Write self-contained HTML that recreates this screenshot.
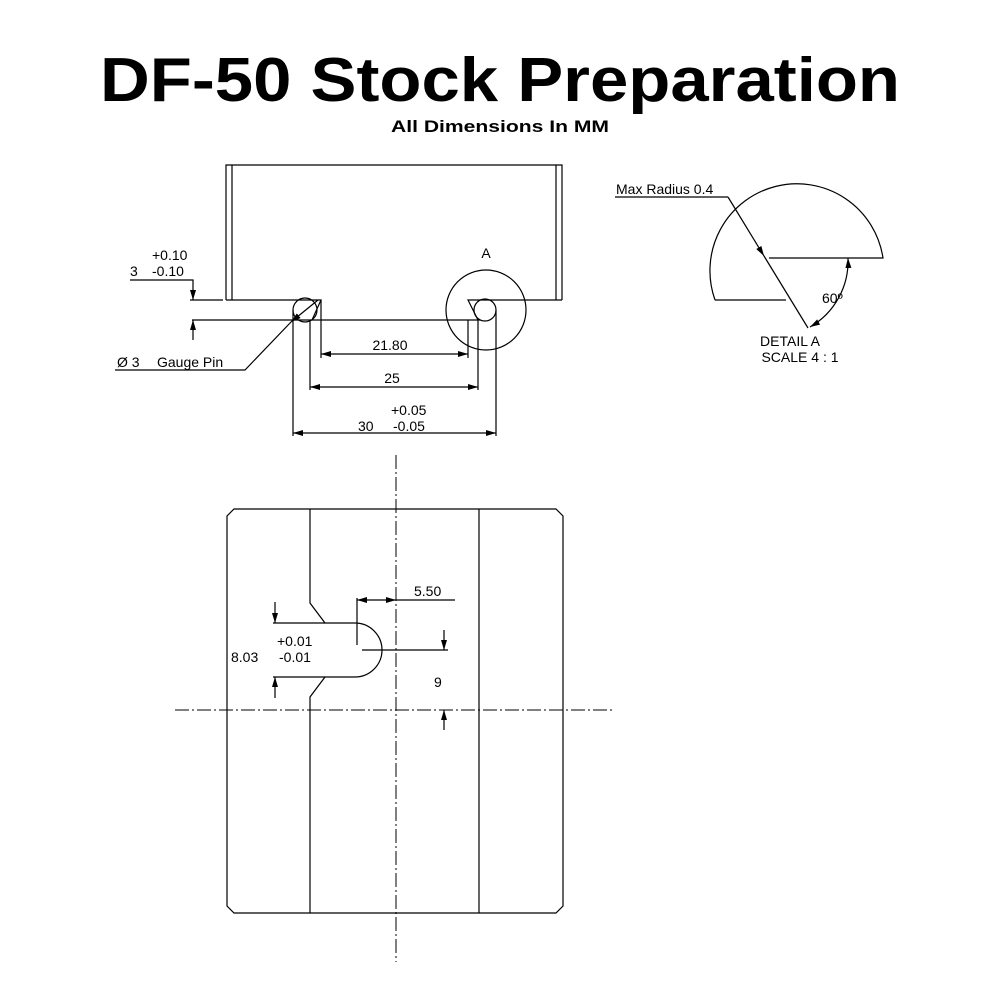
<!DOCTYPE html>
<html><head><style>
html,body{margin:0;padding:0;background:#fff;}
svg{display:block;}
text{font-family:"Liberation Sans",sans-serif;fill:#000;}
</style></head><body>
<svg width="1000" height="1000" viewBox="0 0 1000 1000" xmlns="http://www.w3.org/2000/svg">
<defs>
<marker id="a" viewBox="0 0 10 6" refX="10" refY="3" markerWidth="10" markerHeight="6" markerUnits="userSpaceOnUse" orient="auto-start-reverse"><path d="M0,0L10,3L0,6z" fill="#000"/></marker>
</defs>
<text x="500" y="101" text-anchor="middle" font-size="62" font-weight="bold" textLength="800" lengthAdjust="spacingAndGlyphs">DF-50 Stock Preparation</text>
<text x="500" y="132" text-anchor="middle" font-size="17" font-weight="bold" textLength="218" lengthAdjust="spacingAndGlyphs">All Dimensions In MM</text>

<g stroke="#000" stroke-width="1.2" fill="none">
<path d="M226,300 V165 H562 V300"/>
<line x1="232" y1="165" x2="232" y2="300"/>
<line x1="556" y1="165" x2="556" y2="300"/>
<path d="M190,300 H223 M226,300 H321 L312,320"/>
<path d="M562,300 H468 L478,320"/>
<circle cx="305" cy="310" r="12"/>
<circle cx="485" cy="310" r="11"/>
<circle cx="486" cy="310" r="40"/>
<line x1="192" y1="320" x2="480" y2="320"/>
<path d="M130,280 H193 V300" marker-end="url(#a)"/>
<line x1="193" y1="340" x2="193" y2="320" marker-end="url(#a)"/>
<line x1="321" y1="300" x2="321" y2="358"/>
<line x1="468" y1="320" x2="468" y2="358"/>
<line x1="321" y1="354" x2="468" y2="354" marker-start="url(#a)" marker-end="url(#a)"/>
<line x1="310" y1="320" x2="310" y2="390"/>
<line x1="478" y1="320" x2="478" y2="390"/>
<line x1="310" y1="387" x2="478" y2="387" marker-start="url(#a)" marker-end="url(#a)"/>
<line x1="293" y1="310" x2="293" y2="436"/>
<line x1="496" y1="310" x2="496" y2="436"/>
<line x1="293" y1="433" x2="496" y2="433" marker-start="url(#a)" marker-end="url(#a)"/>
<path d="M115,370 H245 L291,322"/>
<line x1="318" y1="300" x2="291" y2="322" marker-end="url(#a)"/>

<path d="M715,300 A87,87 0 1 1 883,258 H769"/>
<line x1="715" y1="300" x2="786" y2="300"/>
<path d="M615,197 H728"/>
<line x1="728" y1="197" x2="764" y2="256" marker-end="url(#a)"/>
<line x1="764" y1="256" x2="808" y2="328"/>
<path d="M848,258 A76,76 0 0 1 810,327" marker-start="url(#a)" marker-end="url(#a)"/>

<path d="M234,509 H556 L563,516 V906 L556,913 H234 L227,906 V516 Z"/>
<line x1="479" y1="509" x2="479" y2="913"/>
<path d="M310,509 V603 L325,623 H355 A27,27 0 0 1 355,677 H325 L310,697 V913"/>
<line x1="273" y1="623" x2="325" y2="623"/>
<line x1="273" y1="677" x2="325" y2="677"/>
<line x1="275" y1="602" x2="275" y2="623" marker-end="url(#a)"/>
<line x1="275" y1="698" x2="275" y2="677" marker-end="url(#a)"/>
<line x1="357" y1="598" x2="357" y2="645"/>
<line x1="376" y1="600" x2="357" y2="600" marker-end="url(#a)"/>
<line x1="376" y1="600" x2="396" y2="600" marker-end="url(#a)"/>
<line x1="396" y1="600" x2="455" y2="600"/>
<line x1="362" y1="650" x2="448" y2="650"/>
<line x1="444" y1="630" x2="444" y2="650" marker-end="url(#a)"/>
<line x1="444" y1="730" x2="444" y2="710" marker-end="url(#a)"/>
</g>
<g stroke="#000" stroke-width="1" fill="none" stroke-dasharray="14,3,2,3">
<line x1="396" y1="455" x2="396" y2="962"/>
<line x1="175" y1="710" x2="612" y2="710"/>
</g>

<g font-size="14">
<text x="152" y="260">+0.10</text>
<text x="130" y="276">3</text><text x="152" y="276">-0.10</text>
<text x="486" y="258" text-anchor="middle">A</text>
<text x="390" y="350" text-anchor="middle">21.80</text>
<text x="392" y="383" text-anchor="middle">25</text>
<text x="391" y="415">+0.05</text>
<text x="358" y="431">30</text><text x="393" y="431">-0.05</text>
<text x="117" y="367">Ø 3</text><text x="157" y="367">Gauge Pin</text>
<text x="616" y="194">Max Radius 0.4</text>
<text x="822" y="303">60º</text>
<text x="790" y="346" text-anchor="middle">DETAIL A</text>
<text x="800" y="362" text-anchor="middle">SCALE 4 : 1</text>
<text x="414" y="596">5.50</text>
<text x="277" y="646">+0.01</text>
<text x="231" y="662">8.03</text><text x="279" y="662">-0.01</text>
<text x="434" y="687">9</text>
</g>
</svg>
</body></html>
